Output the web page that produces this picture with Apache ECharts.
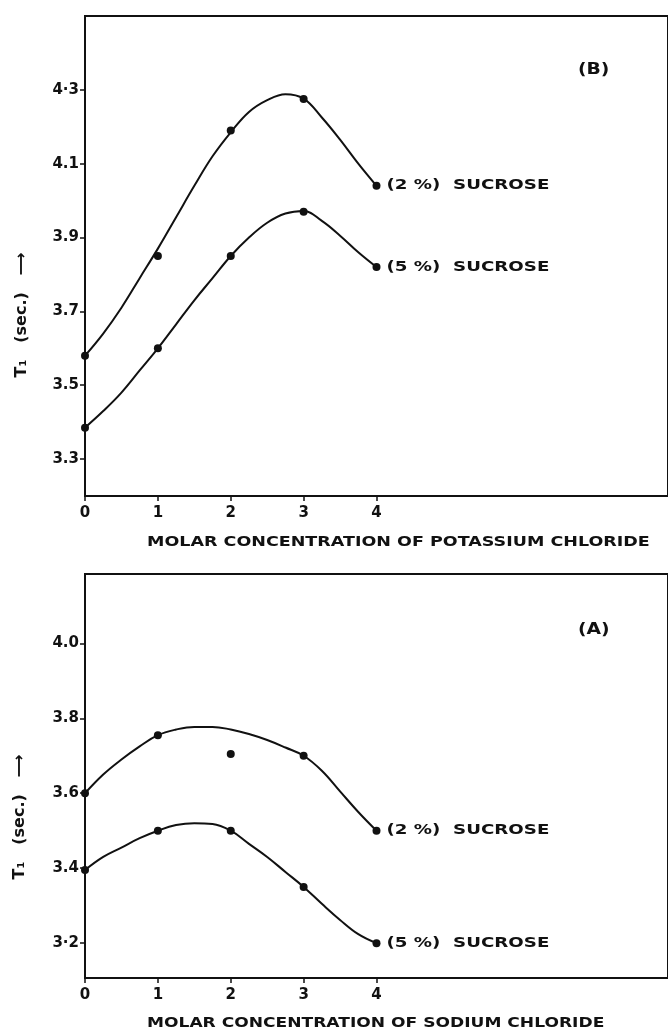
<!DOCTYPE html>
<html>
<head>
<meta charset="utf-8">
<script src="https://cdn.jsdelivr.net/npm/echarts@6/dist/echarts.min.js"></script>
<style>
html, body { margin: 0; padding: 0; background: #fff; }
#chart { width: 668px; height: 1033px; }
</style>
</head>
<body>
<div id="chart"></div>
<script>
// concentrations (M)
var concX = [0, 1, 2, 3, 4];
var curveX = [0, 0.25, 0.5, 0.75, 1, 1.25, 1.5, 1.75, 2, 2.25, 2.5, 2.75, 3, 3.25, 3.5, 3.75, 4];

// (B) potassium chloride, measured points
var kcl2 = [3.58, 3.85, 4.19, 4.275, 4.04];
var kcl5 = [3.385, 3.60, 3.85, 3.97, 3.82];
// (B) hand drawn curves
var kcl2Curve = [3.58, 3.64, 3.71, 3.79, 3.87, 3.955, 4.04, 4.12, 4.185, 4.24, 4.272, 4.288, 4.276, 4.225, 4.165, 4.10, 4.04];
var kcl5Curve = [3.385, 3.43, 3.48, 3.54, 3.60, 3.665, 3.73, 3.79, 3.85, 3.90, 3.94, 3.965, 3.972, 3.945, 3.905, 3.86, 3.82];

// (A) sodium chloride, measured points
var nacl2 = [3.60, 3.755, 3.705, 3.70, 3.50];
var nacl5 = [3.395, 3.50, 3.50, 3.35, 3.20];
// (A) curves
var nacl2Curve = [3.60, 3.65, 3.69, 3.725, 3.755, 3.77, 3.777, 3.777, 3.77, 3.758, 3.742, 3.722, 3.70, 3.66, 3.605, 3.55, 3.50];
var nacl5Curve = [3.395, 3.43, 3.455, 3.48, 3.50, 3.515, 3.52, 3.518, 3.50, 3.465, 3.43, 3.39, 3.35, 3.305, 3.262, 3.224, 3.20];

// tick labels
var kclTicks = [3.3, 3.5, 3.7, 3.9, 4.1, 4.3];
var kclTickLabels = ['3.3', '3.5', '3.7', '3.9', '4.1', '4·3'];
var naclTicks = [3.2, 3.4, 3.6, 3.8, 4.0];
var naclTickLabels = ['3·2', '3.4', '3.6', '3.8', '4.0'];
var xTickLabels = ['0', '1', '2', '3', '4'];

var seriesNames = ['(2 %)  SUCROSE', '(5 %)  SUCROSE'];

var FONT = 'DejaVu Sans';
var INK = '#111';

function pairs(xs, ys) {
  return xs.map(function (x, i) { return [x, ys[i]]; });
}

function xAxisFor(grid) {
  return {
    type: 'value', gridIndex: grid, min: 0, max: 8,
    axisLine: { lineStyle: { color: INK, width: 2 } },
    axisTick: { customValues: concX, length: 5, lineStyle: { color: INK, width: 1.5 } },
    axisLabel: {
      customValues: concX, margin: 10,
      color: INK, fontFamily: FONT, fontWeight: 'bold', fontSize: 15,
      formatter: function (v) { return xTickLabels[concX.indexOf(Math.round(v))]; }
    },
    splitLine: { show: false }
  };
}

function yAxisFor(grid, min, max, ticks, labels) {
  return {
    type: 'value', gridIndex: grid, min: min, max: max,
    axisLine: { show: true, lineStyle: { color: INK, width: 2 } },
    axisTick: { show: true, customValues: ticks, length: 5, lineStyle: { color: INK, width: 1.5 } },
    axisLabel: {
      customValues: ticks, margin: 6,
      color: INK, fontFamily: FONT, fontWeight: 'bold', fontSize: 15,
      formatter: function (v) {
        for (var i = 0; i < ticks.length; i++) {
          if (Math.abs(ticks[i] - v) < 1e-6) return labels[i];
        }
        return '';
      }
    },
    splitLine: { show: false }
  };
}

function curve(idx, data) {
  return {
    type: 'line', xAxisIndex: idx, yAxisIndex: idx,
    data: pairs(curveX, data), smooth: 0.4, symbol: 'none',
    lineStyle: { color: INK, width: 2 }, silent: true
  };
}

function dots(idx, data) {
  return {
    type: 'scatter', xAxisIndex: idx, yAxisIndex: idx,
    data: pairs(concX, data), symbol: 'circle', symbolSize: 8,
    itemStyle: { color: INK, opacity: 1 }
  };
}

var myChart = echarts.init(document.getElementById('chart'));

var option = {
  backgroundColor: '#fff',
  animation: false,
  grid: [
    { left: 85, top: 16, right: -9, bottom: 537, show: true, borderColor: INK, borderWidth: 2 },
    { left: 85, top: 574, right: -9, bottom: 55, show: true, borderColor: INK, borderWidth: 2 }
  ],
  xAxis: [xAxisFor(0), xAxisFor(1)],
  yAxis: [
    yAxisFor(0, 3.2, 4.5, kclTicks, kclTickLabels),
    yAxisFor(1, 3.107, 4.185, naclTicks, naclTickLabels)
  ],
  series: [
    curve(0, kcl2Curve), curve(0, kcl5Curve), dots(0, kcl2), dots(0, kcl5),
    curve(1, nacl2Curve), curve(1, nacl5Curve), dots(1, nacl2), dots(1, nacl5)
  ]
};
myChart.setOption(option);

// texts placed through the chart's own coordinate conversion
function txt(x, y, text, size, extra, align) {
  var el = {
    type: 'text', x: x, y: y, z: 10,
    style: {
      text: text, fill: INK, font: 'bold ' + size + 'px "' + FONT + '"',
      textAlign: align || 'left', textVerticalAlign: 'middle'
    }
  };
  for (var k in extra) el[k] = extra[k];
  return el;
}

var graphics = [];
var ends = [
  [0, kcl2[4], seriesNames[0]], [0, kcl5[4], seriesNames[1]],
  [1, nacl2[4], seriesNames[0]], [1, nacl5[4], seriesNames[1]]
];
ends.forEach(function (e) {
  var p = myChart.convertToPixel({ gridIndex: e[0] }, [4, e[1]]);
  graphics.push(txt(p[0] + 10, p[1], e[2], 14, { scaleX: 1.3 }));
});
graphics.push(txt(578, 70, '(B)', 15, { scaleX: 1.25 }));
graphics.push(txt(578, 630, '(A)', 15, { scaleX: 1.25 }));
graphics.push(txt(147, 542, 'MOLAR CONCENTRATION OF POTASSIUM CHLORIDE', 14, { scaleX: 1.25 }));
graphics.push(txt(147, 1023, 'MOLAR CONCENTRATION OF SODIUM CHLORIDE', 14, { scaleX: 1.22 }));
var yName = 'T\u2081   (sec.)   \u27F6';
graphics.push(txt(22, 315, yName, 16, { rotation: Math.PI / 2 }, 'center'));
graphics.push(txt(20, 817, yName, 16, { rotation: Math.PI / 2 }, 'center'));

myChart.setOption({ graphic: { elements: graphics } });
</script>
</body>
</html>
